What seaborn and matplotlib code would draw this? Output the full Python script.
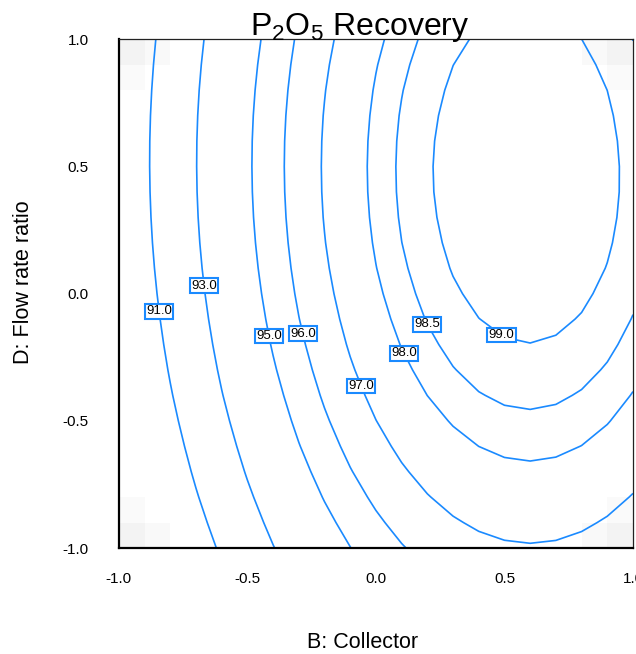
import numpy as np
import matplotlib
matplotlib.use("Agg")
import matplotlib.pyplot as plt
import seaborn as sns

# Coded levels of the two factors shown (others held at centre)
factor_B = np.linspace(-1.0, 1.0, 21)   # B: Collector
factor_D = np.linspace(-1.0, 1.0, 21)   # D: Flow rate ratio

# Fitted quadratic model for P2O5 recovery (%), coded units
coef_terms = ["Intercept", "B", "D", "BD", "B^2", "D^2"]
coef_values = [97.88, 4.69, 1.18, -0.087, -3.97, -1.20]

# Contour levels and where each level's label sits
contour_levels = [91.0, 93.0, 95.0, 96.0, 97.0, 98.0, 98.5, 99.0]
label_spots = [(-0.85, -0.07), (-0.68, 0.03), (-0.435, -0.17), (-0.307, -0.163),
               (-0.07, -0.368), (0.094, -0.242), (0.191, -0.124), (0.495, -0.155)]

# Light grey cells marking the corners of the design region
corner_cell_grey = [0.95, 0.975, 0.98]   # corner, horizontal neighbour, vertical neighbour

sns.set_theme(style="white")
plt.rcParams["font.family"] = ["Liberation Sans", "DejaVu Sans"]
plt.rcParams["mathtext.fontset"] = "custom"
plt.rcParams["mathtext.rm"] = "Liberation Sans"
plt.rcParams["mathtext.it"] = "Liberation Sans:italic"
plt.rcParams["mathtext.bf"] = "Liberation Sans:bold"

c = dict(zip(coef_terms, coef_values))
BB, DD = np.meshgrid(factor_B, factor_D)
recovery = (c["Intercept"] + c["B"] * BB + c["D"] * DD + c["BD"] * BB * DD
            + c["B^2"] * BB ** 2 + c["D^2"] * DD ** 2)

W, H = 636, 654
fig = plt.figure(figsize=(W / 100, H / 100), dpi=100)
ax = fig.add_axes([118.8 / W, 1 - 548 / H, (633 - 118.8) / W, (548 - 39.3) / H])

# grey corner shading on a 20 x 20 cell grid
n = len(factor_B) - 1
shade = np.ones((n, n))
for r, cc in [(0, 0), (0, n - 1), (n - 1, 0), (n - 1, n - 1)]:
    shade[r, cc] = corner_cell_grey[0]
    shade[r, cc + (1 if cc == 0 else -1)] = corner_cell_grey[1]
    shade[r + (1 if r == 0 else -1), cc] = corner_cell_grey[2]
ax.pcolormesh(factor_B, factor_D, shade, cmap="gray", vmin=0, vmax=1,
              shading="flat", zorder=0)

line_blue = "#1A8AFF"
cs = ax.contour(BB, DD, recovery, levels=contour_levels, colors=line_blue,
                linewidths=1.2, zorder=2)


def nearest_on_path(segs, px, py):
    """Closest point to (px, py) on the polylines of one contour level."""
    best, best_d = None, np.inf
    for s in segs:
        for a, b in zip(s[:-1], s[1:]):
            d = b - a
            L = d @ d
            t = 0.0 if L == 0 else np.clip(((px - a[0]) * d[0] + (py - a[1]) * d[1]) / L, 0, 1)
            q = a + t * d
            dist = (q[0] - px) ** 2 + (q[1] - py) ** 2
            if dist < best_d:
                best, best_d = q, dist
    return best


# boxed value labels placed on their own contour line
for lev, segs, (tx, ty) in zip(contour_levels, cs.allsegs, label_spots):
    qx, qy = nearest_on_path(segs, tx, ty)
    ax.text(qx, qy, f"{lev:.1f}", ha="center", va="center",
            fontsize=9.5, color="black", zorder=4,
            bbox=dict(boxstyle="square,pad=0.1", fc="white", ec=line_blue, lw=1.5))

ax.set_xlim(-1, 1)
ax.set_ylim(-1, 1)
ticks = [-1.0, -0.5, 0.0, 0.5, 1.0]
ax.set_xticks(ticks)
ax.set_yticks(ticks)
ax.set_xticklabels([f"{t:.1f}" for t in ticks])
ax.set_yticklabels([f"{t:.1f}" for t in ticks])
ax.tick_params(axis="both", direction="out", length=10.5, width=1.1,
               color="black", labelsize=11, labelcolor="black")
ax.tick_params(axis="x", pad=7)
ax.tick_params(axis="y", pad=11)
for side in ["left", "bottom"]:
    ax.spines[side].set_linewidth(1.6)
    ax.spines[side].set_color("black")
for side in ["top", "right"]:
    ax.spines[side].set_linewidth(0.9)
    ax.spines[side].set_color("#222222")
ax.grid(False)

fig.text(360 / W, 1 - 35 / H, r"P$_2$O$_5$ Recovery", ha="center", va="baseline",
         fontsize=23, color="black")
fig.text(363 / W, 1 - 643 / H, "B: Collector", ha="center", va="center",
         fontsize=15.5, color="black")
fig.text(24 / W, 1 - 282 / H, "D: Flow rate ratio", ha="center", va="center",
         rotation=90, fontsize=15.5, color="black")

fig.savefig("out.png", dpi=100, facecolor="white")
